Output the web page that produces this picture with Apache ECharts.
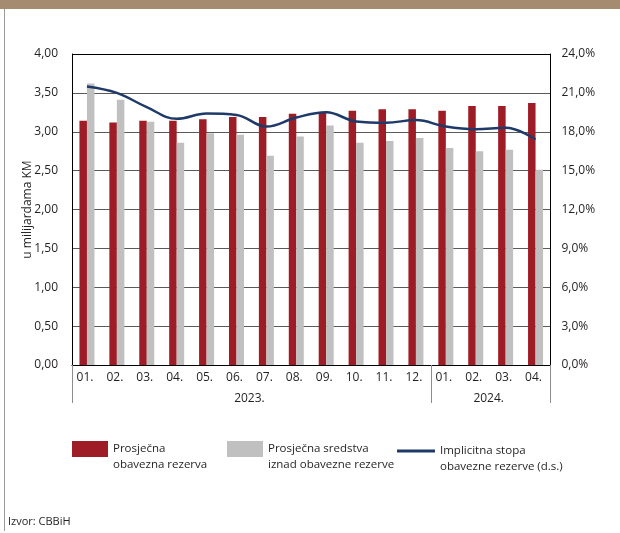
<!DOCTYPE html>
<html>
<head>
<meta charset="utf-8">
<script src="https://cdn.jsdelivr.net/npm/echarts@6/dist/echarts.min.js"></script>
<style>
html,body{margin:0;padding:0;background:#fff;}
#c{width:620px;height:533px;}
</style>
</head>
<body>
<div id="c"></div>
<script>
var categories = ['01.','02.','03.','04.','05.','06.','07.','08.','09.','10.','11.','12.','01.','02.','03.','04.'];
var yearLabels = ['2023.', '2024.'];
var yearCenters = [6, 14];
var yearBounds = [0, 12, 16];
var reserveRequired = [3.14,3.12,3.14,3.14,3.16,3.19,3.19,3.23,3.24,3.27,3.29,3.29,3.27,3.33,3.33,3.37];
var reserveExcess = [3.62,3.41,3.13,2.86,2.98,2.96,2.69,2.94,3.08,2.86,2.88,2.92,2.79,2.75,2.77,2.51];
var impliedRate = [21.5,21.0,19.9,19.0,19.4,19.3,18.4,19.1,19.5,18.8,18.7,18.9,18.4,18.2,18.3,17.4];
var seriesNames = ['Prosječna obavezna rezerva','Prosječna sredstva iznad obavezne rezerve','Implicitna stopa obavezne rezerve (d.s.)'];
var legendLabels = ['Prosječna\nobavezna rezerva','Prosječna sredstva\niznad obavezne rezerve','Implicitna stopa\nobavezne rezerve (d.s.)'];

var FONT = 'Open Sans';
var TXT = '#231f20';
var chart = echarts.init(document.getElementById('c'), null, {renderer:'canvas'});

function legendCfg(i, left, top, w, h) {
  return {
    show: true, left: left, top: top, padding: 0, orient: 'horizontal',
    data: [{name: seriesNames[i], icon: 'rect'}],
    itemWidth: w, itemHeight: h, selectedMode: false,
    formatter: function () { return '\n' + legendLabels[i]; },
    textStyle: {fontFamily: FONT, fontSize: 11.5, color: TXT, lineHeight: 16}
  };
}

var option = {
  animation: false,
  backgroundColor: '#fff',
  grid: {left: 72, right: 69.5, top: 54, bottom: 168, containLabel: false},
  legend: [
    legendCfg(0, 72, 425, 36, 16),
    legendCfg(1, 227, 425, 36, 16),
    legendCfg(2, 397, 427, 38, 3)
  ],
  xAxis: [{
    type: 'category', data: categories, position: 'bottom',
    axisLine: {show: true, onZero: false, lineStyle: {color: '#000', width: 1}},
    axisTick: {show: false},
    axisLabel: {fontFamily: FONT, fontSize: 12, color: TXT, margin: 7, interval: 0, padding: [0,4,0,0]},
    splitLine: {show: false}
  }, {
    type: 'value', min: 0, max: 16, position: 'bottom',
    axisLine: {show: false},
    axisTick: {show: true, customValues: yearBounds, length: 38, inside: false, lineStyle: {color: '#8c8c8c', width: 1}},
    axisLabel: {show: true, customValues: yearCenters, margin: 28, fontFamily: FONT, fontSize: 12, color: TXT, padding: [0,4,0,0],
      formatter: function (v) { var k = yearCenters.indexOf(v); return k >= 0 ? yearLabels[k] : ''; }},
    splitLine: {show: false}
  }],
  yAxis: [{
    type: 'value', min: 0, max: 4, interval: 0.5, position: 'left',
    name: 'u milijardama KM', nameLocation: 'middle', nameRotate: 90, nameGap: 38, nameMoveOverlap: false,
    nameTextStyle: {fontFamily: FONT, fontSize: 12, color: TXT},
    axisLine: {show: true, lineStyle: {color: '#000', width: 1}},
    axisTick: {show: false},
    axisLabel: {fontFamily: FONT, fontSize: 12, color: TXT, margin: 14,
      formatter: function (v) { return v.toFixed(2).replace('.', ','); }},
    splitLine: {show: true, lineStyle: {color: ['#000','#5a5a5a','#5a5a5a','#5a5a5a','#5a5a5a','#5a5a5a','#5a5a5a','#5a5a5a','#000'], width: 1}}
  }, {
    type: 'value', min: 0, max: 24, interval: 3, position: 'right',
    axisLine: {show: true, lineStyle: {color: '#000', width: 1}},
    axisTick: {show: false},
    axisLabel: {fontFamily: FONT, fontSize: 12, color: TXT, margin: 11,
      formatter: function (v) { return v.toFixed(1).replace('.', ',') + '%'; }},
    splitLine: {show: false}
  }],
  series: [{
    name: seriesNames[0], type: 'bar', xAxisIndex: 0, yAxisIndex: 0,
    data: reserveRequired, barWidth: 7.5, barGap: '0%',
    itemStyle: {color: '#9e1c25'}
  }, {
    name: seriesNames[1], type: 'bar', xAxisIndex: 0, yAxisIndex: 0,
    data: reserveExcess, barWidth: 7.5, barGap: '0%',
    itemStyle: {color: '#c0c0c0'}
  }, {
    name: seriesNames[2], type: 'line', xAxisIndex: 0, yAxisIndex: 1,
    data: impliedRate, smooth: 0.4, showSymbol: false, symbol: 'none', z: 5,
    itemStyle: {color: '#1f3a68'},
    lineStyle: {color: '#1f3a68', width: 2.5}
  }],
  graphic: [
    {type: 'rect', shape: {x: 0, y: 0, width: 620, height: 9}, style: {fill: '#a58b6f'}, silent: true},
    {type: 'line', shape: {x1: 4.5, y1: 9, x2: 4.5, y2: 531}, style: {stroke: '#9a9a9a', lineWidth: 1}, silent: true},
    {type: 'text', left: 8, top: 516, style: {text: 'Izvor: CBBiH', fontFamily: FONT, fontSize: 11, fill: TXT}, silent: true}
  ]
};
chart.setOption(option);
</script>
</body>
</html>
